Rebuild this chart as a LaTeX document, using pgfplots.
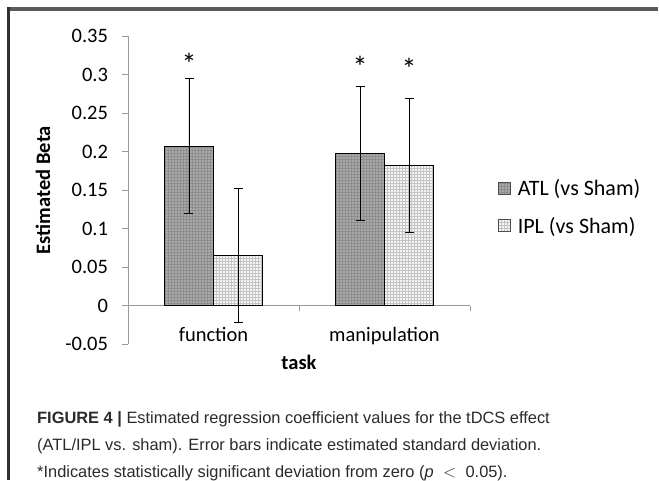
\documentclass[border=0pt]{standalone}
\usepackage{fontspec}
\setmainfont{Carlito}
\newfontfamily\capfont{Liberation Sans}
\usepackage{pgfplots}
\pgfplotsset{compat=1.18}
\usetikzlibrary{patterns}
\definecolor{atlfill}{HTML}{A8A8A8}
\definecolor{atlgrid}{HTML}{8E8E8E}
\definecolor{iplfill}{HTML}{F4F4F4}
\definecolor{iplgrid}{HTML}{C4C4C4}
\definecolor{axgray}{HTML}{9A9A9A}
\definecolor{captxt}{HTML}{2A2A2A}
\definecolor{frametop}{HTML}{5A5A5A}
\definecolor{frameleft}{HTML}{303030}
\newcommand{\chartfont}{\fontsize{20.5}{24}\selectfont}
\newcommand{\legfont}{\fontsize{22}{26}\selectfont}
\begin{document}
\begin{tikzpicture}
\path[use as bounding box] (0pt,0pt) rectangle (659pt,480pt);
\begin{axis}[
  at={(128pt,136pt)}, anchor=south west,
  scale only axis, width=342pt, height=308pt,
  xmin=-0.5, xmax=1.5, ymin=-0.05, ymax=0.35,
  axis y line=left, axis x line=middle,
  axis line style={axgray, line width=0.9pt, -},
  ybar=0pt, bar width=49pt,
  xtick={-0.5,0.5,1.5}, xticklabels={},
  extra x ticks={0,1}, extra x tick labels={function,manipulation},
  extra x tick style={major tick length=0pt, tick label style={yshift=-18pt}},
  ytick={-0.05,0,0.05,0.1,0.15,0.2,0.25,0.3,0.35},
  yticklabels={-0.05,0,0.05,0.1,0.15,0.2,0.25,0.3,0.35},
  tick style={axgray, line width=0.9pt},
  major tick length=5.5pt,
  tick align=outside,
  tick label style={font=\chartfont},
  yticklabel style={xshift=-11pt},
  clip=false,
  legend style={draw=none, fill=none, at={(1,0.445)}, anchor=west, xshift=28pt,
    font=\legfont, row sep=16pt, inner sep=0pt,
    /tikz/every odd column/.append style={column sep=5pt}},
  legend cell align=left,
]
\addplot[draw=black, line width=0.8pt, fill=atlfill,
  postaction={pattern=grid, pattern color=atlgrid},
  error bars/.cd, y dir=both, y explicit,
  error bar style={black, line width=0.9pt},
  error mark options={black, line width=0.9pt, mark size=4.5pt, rotate=90},
  /pgfplots/legend image code/.code={\draw[draw=black!70, line width=0.6pt, fill=atlfill, postaction={pattern=grid, pattern color=atlgrid}] (0pt,-6pt) rectangle (12pt,6pt);}]
  coordinates {(0,0.207) +- (0,0.088) (1,0.197) +- (0,0.087)};
\addlegendentry{ATL (vs Sham)}
\addplot[draw=black, line width=0.8pt, fill=iplfill,
  postaction={pattern=grid, pattern color=iplgrid},
  error bars/.cd, y dir=both, y explicit,
  error bar style={black, line width=0.9pt},
  error mark options={black, line width=0.9pt, mark size=4.5pt, rotate=90},
  /pgfplots/legend image code/.code={\draw[draw=black!70, line width=0.6pt, fill=iplfill, postaction={pattern=grid, pattern color=iplgrid}] (0pt,-6pt) rectangle (12pt,6pt);}]
  coordinates {(0,0.0645) +- (0,0.087) (1,0.182) +- (0,0.087)};
\addlegendentry{IPL (vs Sham)}
\node[font=\fontsize{30}{30}\selectfont] at (axis cs:-0.1433,0.314) {*};
\node[font=\fontsize{30}{30}\selectfont] at (axis cs:0.8567,0.310) {*};
\node[font=\fontsize{30}{30}\selectfont] at (axis cs:1.1433,0.307) {*};
\end{axis}
\fill[frametop] (7pt,469pt) rectangle (658pt,472.5pt);
\fill[frameleft] (7pt,0pt) rectangle (9.5pt,472.5pt);
\node[rotate=90, font=\bfseries\chartfont] at (43pt,290pt) {Estimated Beta};
\node[font=\bfseries\chartfont] at (299pt,118pt) {task};
\begin{scope}[every node/.style={anchor=base west, inner sep=0pt, text=captxt, font=\capfont\fontsize{16.4}{19}\selectfont}]
\node at (37pt,57pt) {\textbf{FIGURE 4 |} Estimated regression coefficient values for the tDCS effect};
\node at (37pt,30pt) {(ATL/IPL vs. sham). Error bars indicate estimated standard deviation.};
\node at (37pt,3pt) {*Indicates statistically significant deviation from zero ({\itshape p} ${}<{}$ 0.05).};
\end{scope}
\end{tikzpicture}
\end{document}
